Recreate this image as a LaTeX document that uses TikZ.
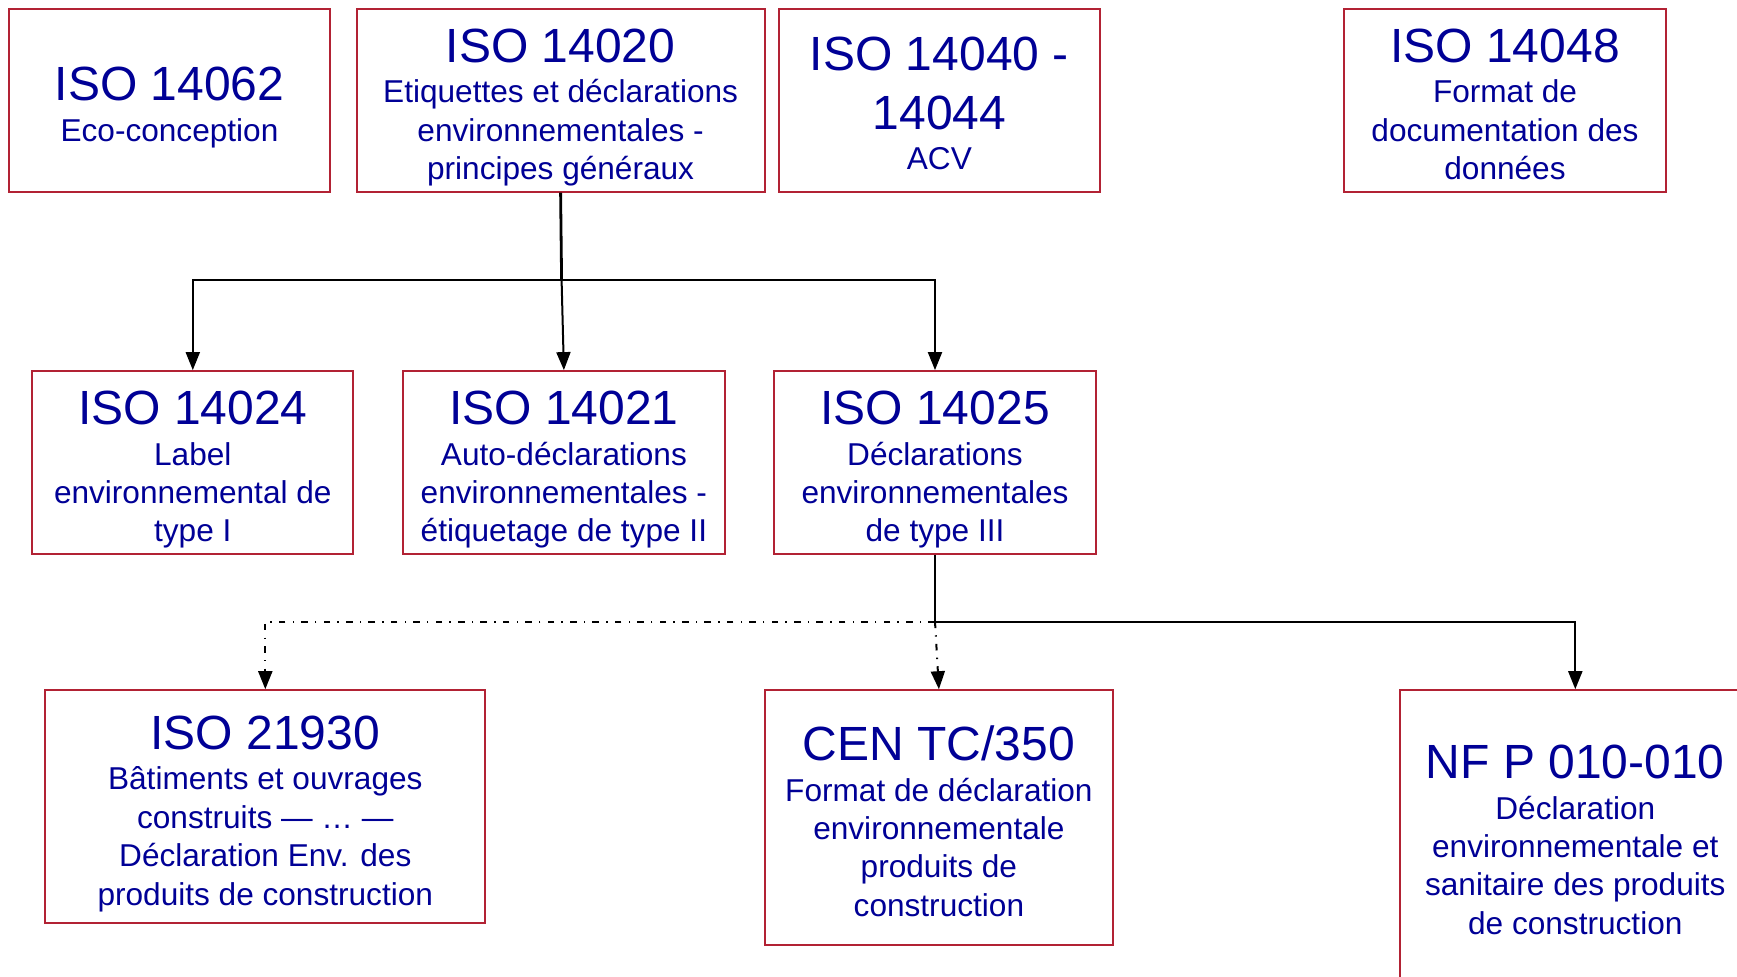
\documentclass[tikz,border=0pt]{standalone}
\usepackage{fontspec}
\setmainfont{Liberation Sans}
\usetikzlibrary{arrows.meta}
\definecolor{boxred}{RGB}{178,34,52}
\definecolor{textblue}{RGB}{0,0,150}
\newcommand\boxtitle[2][24pt]{{\fontsize{24}{28}\selectfont\rule{0pt}{#1}#2}}
\begin{document}
\begin{tikzpicture}[x=0.5pt,y=-0.5pt,
  box/.style={draw=boxred, line width=1pt, text=textblue, align=center, inner sep=0pt,
    font=\fontsize{15.8}{19.2}\selectfont},
  conn/.style={line width=1pt, -{Triangle[length=9pt,width=7pt]}},
  stem/.style={line width=1.4pt},
  dashdot/.style={line width=1pt, dash pattern=on 3.3pt off 3.6pt on 0.7pt off 3.6pt, -{Triangle[length=9pt,width=7pt]}}
]
\useasboundingbox (0,0) rectangle (1737,976);
\fill[white] (0,0) rectangle (1737,976);

% top row
\node[box, minimum width=160.6pt, minimum height=91.4pt] (a14062) at (169.5,100.3)
  {\boxtitle{ISO 14062}\\[1pt]Eco-conception};
\node[box, minimum width=203.9pt, minimum height=91.4pt] (a14020) at (560.6,100.3)
  {\boxtitle{ISO 14020}\\[1pt]Etiquettes et déclarations\\environnementales -\\principes généraux};
\node[box, minimum width=160.6pt, minimum height=91.4pt] (a14040) at (939.4,100.3)
  {\boxtitle[20pt]{ISO 14040 -}\\[10.2pt]\boxtitle[0pt]{14044}\\[1.2pt]ACV};
\node[box, minimum width=161.2pt, minimum height=91.4pt] (a14048) at (1505,100.3)
  {\boxtitle[21pt]{ISO 14048}\\[1pt]Format de\\documentation des\\données};

% middle row
\node[box, minimum width=160.6pt, minimum height=91.4pt] (a14024) at (192.8,462.5)
  {\boxtitle{ISO 14024}\\[1pt]Label\\environnemental de\\type I};
\node[box, minimum width=160.6pt, minimum height=91.4pt] (a14021) at (563.9,462.5)
  {\boxtitle{ISO 14021}\\[1pt]Auto-déclarations\\environnementales -\\étiquetage de type II};
\node[box, minimum width=160.6pt, minimum height=91.4pt] (a14025) at (935,462.5)
  {\boxtitle{ISO 14025}\\[1pt]Déclarations\\environnementales\\de type III};

% bottom row
\node[box, minimum width=219.9pt, minimum height=116.3pt] (a21930) at (265.3,806.5)
  {\boxtitle{ISO 21930}\\[1pt]Bâtiments et ouvrages\\construits — … —\\Déclaration Env. des\\produits de construction};
\node[box, minimum width=174.4pt, minimum height=127.4pt] (aCEN) at (938.9,817.6)
  {\boxtitle[21pt]{CEN TC/350}\\[1pt]Format de déclaration\\environnementale\\produits de\\construction};
\node[box, minimum width=175pt, minimum height=146.2pt] (aNF) at (1575.3,836.4)
  {\boxtitle[20.2pt]{NF P 010-010}\\[1pt]Déclaration\\environnementale et\\sanitaire des produits\\de construction};

% connectors from ISO 14020
\coordinate (j1) at (561.6,280.3);
\draw[stem] (a14020.south) -- (j1);
\draw[conn] (j1) -| (a14024.north);
\draw[conn] (j1) -- (a14021.north);
\draw[conn] (j1) -| (a14025.north);

% connectors from ISO 14025
\coordinate (j2) at (935,621.5);
\draw[stem] (a14025.south) -- (j2);
\draw[conn] (j2) -| (aNF.north);
\draw[dashdot] (j2) -| (a21930.north);
\draw[dashdot] (j2) -- (aCEN.north);
\end{tikzpicture}
\end{document}
